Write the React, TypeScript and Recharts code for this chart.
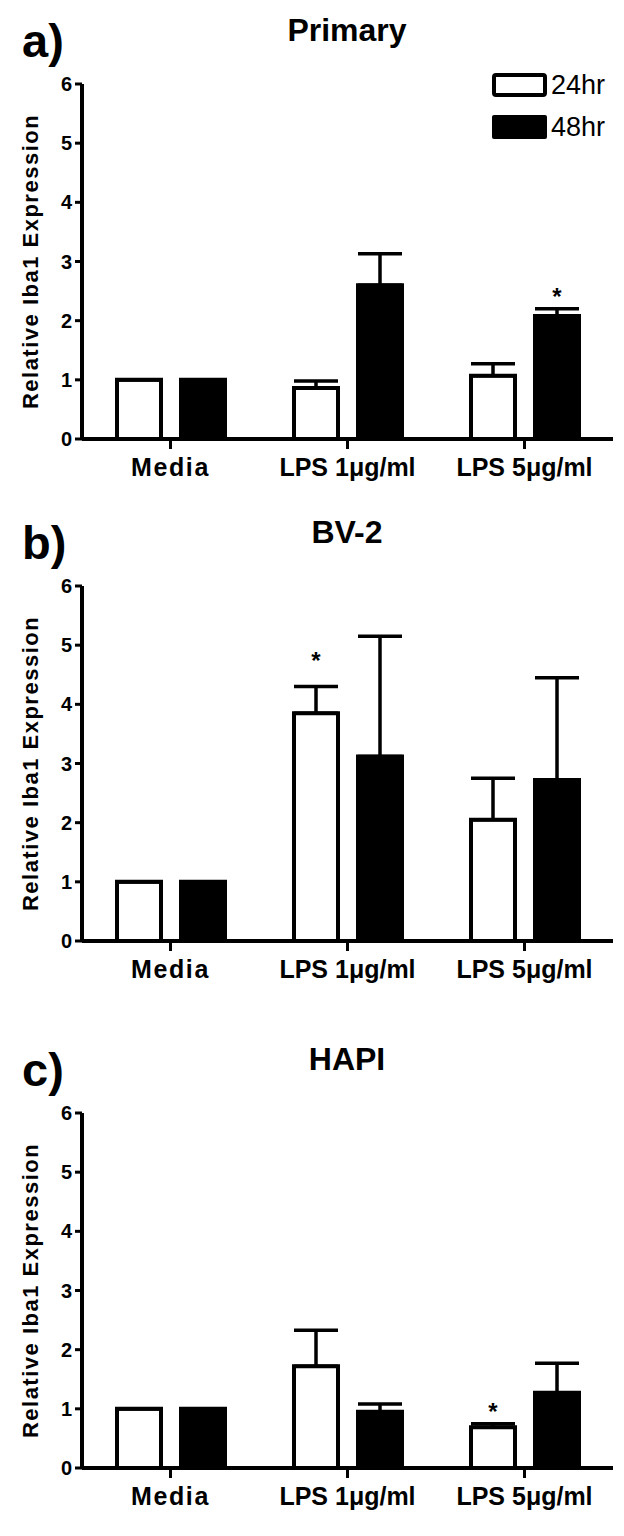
import React from "react"
import {
  Bar,
  BarChart,
  ErrorBar,
  LabelList,
  XAxis,
  YAxis,
} from "recharts"

const categories = ["Media", "LPS 1\u03bcg/ml", "LPS 5\u03bcg/ml"]
const yTicks = [0, 1, 2, 3, 4, 5, 6]
const legendLabels = ["24hr", "48hr"]

// panel a) Primary
const primary24 = [1, 0.86, 1.07]
const primary24Err = [0, 0.12, 0.2]
const primary48 = [1, 2.6, 2.08]
const primary48Err = [0, 0.53, 0.12]
const primary24Star = ["", "", ""]
const primary48Star = ["", "", "*"]

// panel b) BV-2
const bv24 = [1, 3.85, 2.05]
const bv24Err = [0, 0.45, 0.7]
const bv48 = [1, 3.12, 2.72]
const bv48Err = [0, 2.03, 1.73]
const bv24Star = ["", "*", ""]
const bv48Star = ["", "", ""]

// panel c) HAPI
const hapi24 = [1, 1.72, 0.69]
const hapi24Err = [0, 0.61, 0.06]
const hapi48 = [1, 0.95, 1.27]
const hapi48Err = [0, 0.13, 0.5]
const hapi24Star = ["", "", "*"]
const hapi48Star = ["", "", ""]

const FONT = "'Liberation Sans', Arial, Helvetica, sans-serif"

function buildRows(v24, e24, s24, v48, e48, s48) {
  return categories.map((name, i) => ({
    name,
    h24: v24[i],
    err24: [0, e24[i]],
    star24: s24[i],
    h48: v48[i],
    err48: [0, e48[i]],
    star48: s48[i],
  }))
}

function starContent(rows, valKey, errKey, gap) {
  return (props: any) => {
    const { index, value } = props
    if (!value) return null
    const vb = props.viewBox || props
    const row = rows[index]
    const v = row[valKey]
    const ppu = vb.height / v
    const top = vb.y + vb.height - (v + row[errKey][1]) * ppu
    return (
      <text
        x={vb.x + vb.width / 2}
        y={top - gap}
        textAnchor="middle"
        fontFamily={FONT}
        fontWeight="bold"
        fontSize={24}
        fill="#000"
      >
        *
      </text>
    )
  }
}

function XTick(props: any) {
  const { x, y, payload } = props
  const isMedia = payload.value === "Media"
  return (
    <text
      x={x}
      y={y + 25}
      textAnchor="middle"
      fontFamily={FONT}
      fontWeight="bold"
      fontSize={25}
      letterSpacing={isMedia ? 1.6 : 0}
      fill="#000"
    >
      {payload.value}
    </text>
  )
}

function YLabel(props: any) {
  const vb = props.viewBox
  const cy = vb.y + vb.height / 2
  return (
    <text
      x={38}
      y={cy}
      transform={`rotate(-90, 38, ${cy})`}
      textAnchor="middle"
      fontFamily={FONT}
      fontWeight="bold"
      fontSize={22}
      letterSpacing={1.5}
      fill="#000"
    >
      Relative Iba1 Expression
    </text>
  )
}

function Panel({ top, letter, title, rows, legend, starGap24, starGap48 }) {
  return (
    <div style={{ position: "absolute", left: 0, top, width: 624, height: 510 }}>
      <BarChart
        width={624}
        height={510}
        data={rows}
        margin={{ top: 84, right: 11, bottom: 0, left: 0 }}
        barSize={44}
        barGap={20}
      >
        <XAxis
          dataKey="name"
          height={71}
          axisLine={{ stroke: "#000", strokeWidth: 4 }}
          tickLine={{ stroke: "#000", strokeWidth: 3 }}
          tickSize={10}
          tick={<XTick />}
          interval={0}
        />
        <YAxis
          width={82}
          domain={[0, 6]}
          ticks={yTicks}
          interval={0}
          axisLine={{ stroke: "#000", strokeWidth: 4 }}
          tickLine={{ stroke: "#000", strokeWidth: 3 }}
          tickSize={7}
          tickMargin={3}
          tick={{ fill: "#000", fontFamily: FONT, fontWeight: "bold", fontSize: 20 }}
          label={<YLabel />}
        />
        <Bar dataKey="h24" fill="#fff" stroke="#000" strokeWidth={4} isAnimationActive={false}>
          <ErrorBar dataKey="err24" width={22} stroke="#000" strokeWidth={3.5} direction="y" />
          <LabelList dataKey="star24" content={starContent(rows, "h24", "err24", starGap24)} />
        </Bar>
        <Bar dataKey="h48" fill="#000" stroke="#000" strokeWidth={4} isAnimationActive={false}>
          <ErrorBar dataKey="err48" width={22} stroke="#000" strokeWidth={3.5} direction="y" />
          <LabelList dataKey="star48" content={starContent(rows, "h48", "err48", starGap48)} />
        </Bar>
      </BarChart>
      <svg
        width={624}
        height={160}
        style={{ position: "absolute", left: 0, top: 0, pointerEvents: "none" }}
      >
        <text x={22} y={57} fontFamily={FONT} fontWeight="bold" fontSize={47} fill="#000">
          {letter}
        </text>
        <text x={347} y={41} textAnchor="middle" fontFamily={FONT} fontWeight="bold" fontSize={32} fill="#000">
          {title}
        </text>
        {legend && (
          <g>
            <rect x={494} y={75} width={51} height={20} rx={2} fill="#fff" stroke="#000" strokeWidth={4} />
            <text x={551} y={94} fontFamily={FONT} fontSize={27} fill="#000">
              {legendLabels[0]}
            </text>
            <rect x={492} y={115} width={55} height={24} rx={2} fill="#000" />
            <text x={551} y={136} fontFamily={FONT} fontSize={27} fill="#000">
              {legendLabels[1]}
            </text>
          </g>
        )}
      </svg>
    </div>
  )
}

export default function App() {
  const rowsA = buildRows(primary24, primary24Err, primary24Star, primary48, primary48Err, primary48Star)
  const rowsB = buildRows(bv24, bv24Err, bv24Star, bv48, bv48Err, bv48Star)
  const rowsC = buildRows(hapi24, hapi24Err, hapi24Star, hapi48, hapi48Err, hapi48Star)
  return (
    <div style={{ position: "absolute", left: 0, top: 0, width: 624, height: 1536, background: "#fff" }}>
      <Panel top={0} letter="a)" title="Primary" rows={rowsA} legend starGap24={4} starGap48={4} />
      <Panel top={502} letter="b)" title="BV-2" rows={rowsB} legend={false} starGap24={18} starGap48={4} />
      <Panel top={1029} letter="c)" title="HAPI" rows={rowsC} legend={false} starGap24={4} starGap48={4} />
    </div>
  )
}
